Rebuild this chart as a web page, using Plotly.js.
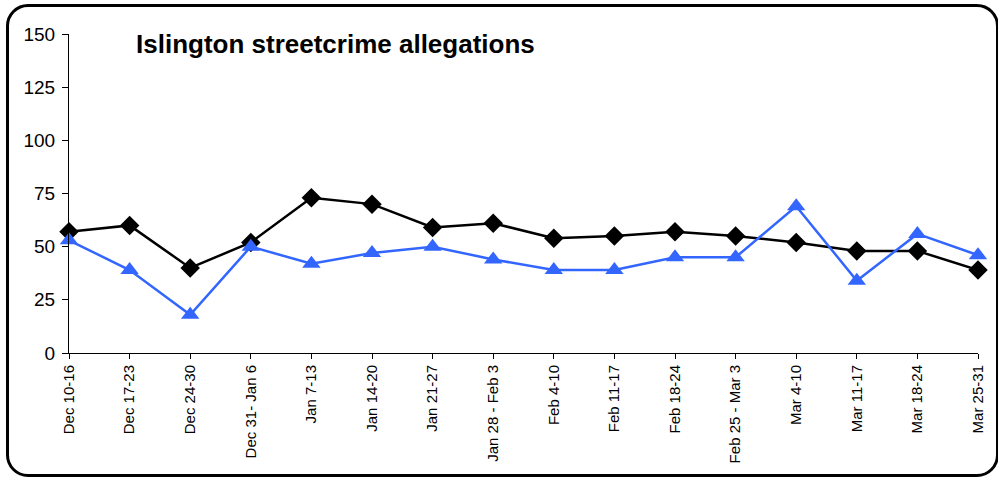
<!DOCTYPE html>
<html>
<head>
<meta charset="utf-8">
<script src="https://cdn.plot.ly/plotly-3.0.1.min.js"></script>
<style>
  html, body { margin: 0; padding: 0; background: #fff; }
  #frame { position: absolute; left: 6px; top: 4px; width: 993px; height: 473px; box-sizing: border-box;
           border: 3px solid #000; border-radius: 22px; }
  #chart { position: absolute; left: 0; top: 0; width: 998px; height: 478px; }
</style>
</head>
<body>
<div id="frame"></div>
<div id="chart"></div>
<script>
const weeks = ["Dec 10-16", "Dec 17-23", "Dec 24-30", "Dec 31- Jan 6", "Jan 7-13", "Jan 14-20",
  "Jan 21-27", "Jan 28 - Feb 3", "Feb 4-10", "Feb 11-17", "Feb 18-24", "Feb 25 - Mar 3",
  "Mar 4-10", "Mar 11-17", "Mar 18-24", "Mar 25-31"];
const seriesBlack = [57, 60, 40, 52, 73, 70, 59, 61, 54, 55, 57, 55, 52, 48, 48, 39];
const seriesBlue = [53, 39, 18, 50, 42, 47, 50, 44, 39, 39, 45, 45, 69, 34, 56, 46];
const yTicks = [0, 25, 50, 75, 100, 125, 150];
const chartTitle = "Islington streetcrime allegations";

const traces = [
  { x: weeks, y: seriesBlack, type: "scatter", mode: "lines+markers", cliponaxis: false,
    line: { color: "#000000", width: 2.5 },
    marker: { symbol: "diamond", size: 15, color: "#000000" }, showlegend: false },
  { x: weeks, y: seriesBlue, type: "scatter", mode: "lines+markers", cliponaxis: false,
    line: { color: "#3366FF", width: 2.5 },
    marker: { symbol: "triangle-up", size: 16, color: "#3366FF" }, showlegend: false }
];

const layout = {
  width: 998, height: 478,
  margin: { l: 69, r: 20, t: 34, b: 125 },
  paper_bgcolor: "rgba(0,0,0,0)", plot_bgcolor: "rgba(0,0,0,0)",
  font: { family: "Liberation Sans, Arial, sans-serif", color: "#000" },
  title: { text: "<b>" + chartTitle + "</b>", x: 136 / 998, xanchor: "left", xref: "container",
           y: 1 - 44 / 478, yanchor: "middle", yref: "container",
           font: { size: 26, family: "Liberation Sans, Arial, sans-serif", color: "#000" } },
  xaxis: { type: "category", range: [0, weeks.length - 1], showgrid: false, zeroline: false,
           showline: true, linecolor: "#000", linewidth: 1, ticks: "outside", ticklen: 5,
           tickcolor: "#000", tickangle: -90, tickfont: { size: 15 }, fixedrange: true },
  yaxis: { range: [0, 150], tickvals: yTicks, ticktext: yTicks.map(String), showgrid: false,
           zeroline: false, showline: true, linecolor: "#000", linewidth: 1, ticks: "outside",
           ticklen: 6, tickcolor: "#000", tickfont: { size: 19 }, ticklabelstandoff: 3, fixedrange: true }
};

Plotly.newPlot("chart", traces, layout, { displayModeBar: false, staticPlot: true });
</script>
</body>
</html>
